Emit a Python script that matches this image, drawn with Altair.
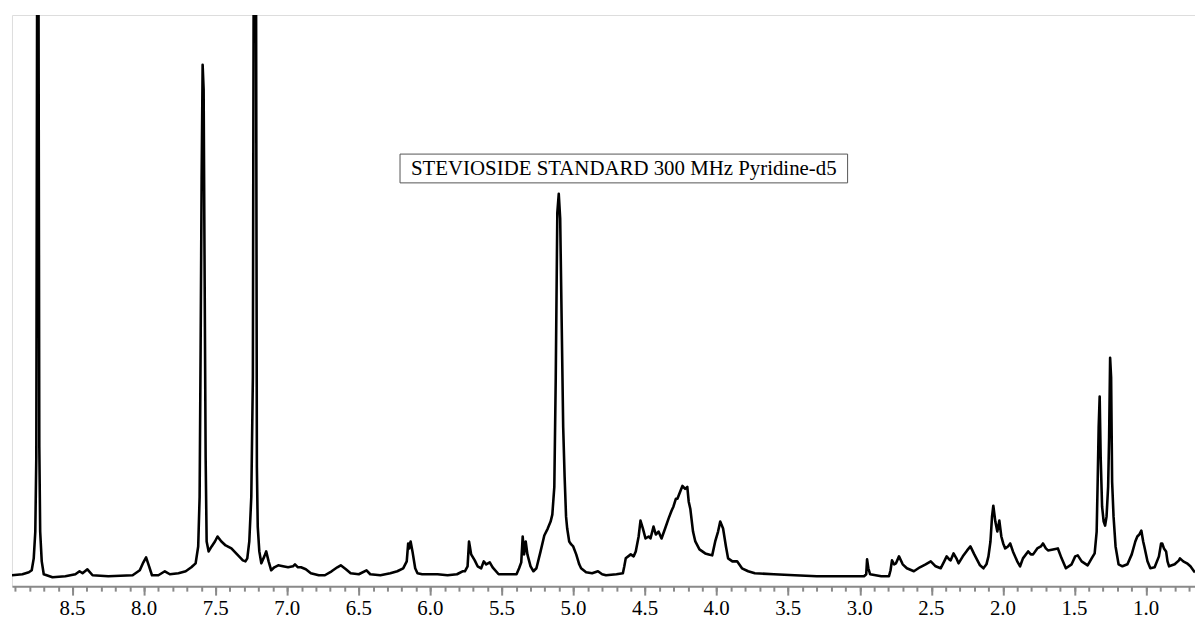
import altair as alt
import pandas as pd

# Chemical shift (ppm) and signal intensity
ppm = [
    8.923, 8.85, 8.805, 8.785, 8.771, 8.760, 8.753, 8.746, 8.739, 8.732, 8.726, 8.715, 8.701,
    8.64, 8.55, 8.48, 8.451, 8.43, 8.396, 8.36, 8.25, 8.08, 8.03, 8.005, 7.986, 7.965, 7.945,
    7.90, 7.855, 7.82, 7.76, 7.709, 7.67, 7.640, 7.622, 7.612, 7.605, 7.598, 7.591, 7.584,
    7.577, 7.570, 7.563, 7.549, 7.528, 7.505, 7.487, 7.46, 7.43, 7.39, 7.35, 7.31, 7.292,
    7.279, 7.265, 7.251, 7.240, 7.233, 7.219, 7.212, 7.206, 7.195, 7.181, 7.16, 7.147, 7.13,
    7.112, 7.09, 7.063, 7.03, 6.994, 6.96, 6.946, 6.925, 6.904, 6.87, 6.835, 6.78, 6.737,
    6.69, 6.65, 6.626, 6.59, 6.557, 6.50, 6.446, 6.42, 6.349, 6.28, 6.231, 6.19, 6.165,
    6.155, 6.148, 6.138, 6.125, 6.106, 6.09, 6.057, 5.95, 5.88, 5.814, 5.775, 5.759, 5.74,
    5.73, 5.724, 5.715, 5.69, 5.67, 5.645, 5.627, 5.61, 5.585, 5.565, 5.523, 5.45, 5.398,
    5.38, 5.365, 5.355, 5.345, 5.334, 5.322, 5.30, 5.28, 5.259, 5.23, 5.204, 5.18, 5.16,
    5.148, 5.134, 5.124, 5.113, 5.103, 5.093, 5.082, 5.072, 5.062, 5.052, 5.044, 5.03,
    5.016, 5.002, 4.981, 4.96, 4.947, 4.912, 4.87, 4.829, 4.80, 4.773, 4.70, 4.655, 4.645,
    4.635, 4.60, 4.58, 4.565, 4.545, 4.532, 4.515, 4.497, 4.475, 4.462, 4.441, 4.425, 4.406,
    4.385, 4.36, 4.336, 4.315, 4.302, 4.285, 4.274, 4.255, 4.239, 4.22, 4.205, 4.195, 4.184,
    4.165, 4.149, 4.12, 4.08, 4.055, 4.031, 4.01, 3.99, 3.975, 3.955, 3.935, 3.92, 3.89,
    3.857, 3.823, 3.78, 3.733, 3.60, 3.455, 3.30, 3.10, 2.97, 2.955, 2.949, 2.94, 2.928,
    2.85, 2.796, 2.785, 2.775, 2.76, 2.747, 2.726, 2.70, 2.671, 2.622, 2.58, 2.54, 2.504,
    2.47, 2.435, 2.41, 2.393, 2.375, 2.365, 2.345, 2.325, 2.31, 2.28, 2.25, 2.227, 2.20,
    2.16, 2.136, 2.115, 2.101, 2.087, 2.076, 2.067, 2.053, 2.039, 2.025, 2.011, 1.998,
    1.984, 1.965, 1.949, 1.93, 1.90, 1.88, 1.86, 1.824, 1.805, 1.789, 1.76, 1.735, 1.72,
    1.70, 1.685, 1.65, 1.616, 1.59, 1.56, 1.52, 1.495, 1.477, 1.45, 1.408, 1.38, 1.359,
    1.345, 1.338, 1.331, 1.324, 1.317, 1.307, 1.296, 1.286, 1.276, 1.265, 1.258, 1.251,
    1.244, 1.237, 1.227, 1.213, 1.192, 1.165, 1.13, 1.10, 1.075, 1.061, 1.047, 1.033, 1.02,
    1.012, 0.99, 0.97, 0.94, 0.91, 0.895, 0.887, 0.875, 0.86, 0.85, 0.839, 0.80, 0.77,
    0.763, 0.74, 0.714, 0.69, 0.665, 0.658,
]
intensity = [
    1, 2, 4, 6, 18, 45, 120, 700, 700, 130, 45, 15, 2,
    -1, 0, 2, 5, 3, 7, 1, 0, 1, 6, 14, 19, 10, 1,
    1, 5, 2, 3, 5, 9, 13, 30, 80, 230, 400, 515, 490,
    300, 120, 35, 25, 30, 35, 40, 35, 31, 28, 22, 16, 15,
    18, 35, 80, 200, 700, 700, 110, 50, 25, 13, 20, 25, 15,
    6, 9, 11, 10, 9, 10, 12, 9, 9, 7, 3, 1, 1,
    5, 9, 11, 7, 3, 2, 6, 2, 1, 3, 5, 8, 15,
    33, 28, 35, 25, 8, 3, 2, 2, 1, 2, 5, 5, 10,
    35, 30, 22, 16, 10, 8, 15, 12, 14, 9, 2, 2, 2,
    8, 14, 40, 22, 35, 22, 10, 5, 8, 25, 41, 48, 55,
    62, 90, 200, 366, 385, 360, 250, 150, 100, 60, 48, 35,
    32, 30, 22, 12, 8, 4, 3, 5, 2, 1, 2, 3, 10,
    18, 22, 20, 25, 40, 56, 48, 38, 40, 38, 50, 42, 45,
    38, 48, 58, 66, 70, 78, 78, 85, 91, 88, 90, 75, 68,
    45, 35, 27, 23, 22, 21, 35, 45, 55, 48, 30, 18, 15,
    15, 8, 5, 3, 2, 1, 0, 0, 0, 2, 17, 8, 2,
    0, 0, 6, 16, 12, 13, 20, 12, 8, 5, 9, 12, 15,
    10, 8, 15, 20, 17, 16, 23, 18, 13, 20, 26, 30, 22,
    11, 8, 12, 20, 35, 60, 71, 55, 45, 56, 40, 33,
    28, 30, 33, 25, 15, 10, 18, 25, 22, 22, 28, 30, 33,
    28, 26, 27, 28, 18, 8, 12, 20, 21, 15, 11, 18, 23,
    45, 95, 150, 181, 120, 70, 55, 51, 60, 90, 140, 220,
    200, 95, 60, 30, 12, 10, 12, 22, 35, 40, 42, 46, 35,
    30, 15, 8, 9, 20, 33, 33, 28, 25, 15, 10, 12, 16,
    18, 15, 13, 10, 5, 4,
]

# Axis ticks and their labels
major_ticks = [8.5, 8.0, 7.5, 7.0, 6.5, 6.0, 5.5, 5.0, 4.5, 4.0, 3.5, 3.0, 2.5, 2.0, 1.5, 1.0]
major_labels = ["8.5", "8.0", "7.5", "7.0", "6.5", "6.0", "5.5", "5.0", "4.5", "4.0",
                "3.5", "3.0", "2.5", "2.0", "1.5", "1.0"]
minor_ticks = [8.9, 8.8, 8.7, 8.6, 8.5, 8.4, 8.3, 8.2, 8.1, 8.0, 7.9, 7.8, 7.7, 7.6, 7.5,
               7.4, 7.3, 7.2, 7.1, 7.0, 6.9, 6.8, 6.7, 6.6, 6.5, 6.4, 6.3, 6.2, 6.1, 6.0,
               5.9, 5.8, 5.7, 5.6, 5.5, 5.4, 5.3, 5.2, 5.1, 5.0, 4.9, 4.8, 4.7, 4.6, 4.5,
               4.4, 4.3, 4.2, 4.1, 4.0, 3.9, 3.8, 3.7, 3.6, 3.5, 3.4, 3.3, 3.2, 3.1, 3.0,
               2.9, 2.8, 2.7, 2.6, 2.5, 2.4, 2.3, 2.2, 2.1, 2.0, 1.9, 1.8, 1.7, 1.6, 1.5,
               1.4, 1.3, 1.2, 1.1, 1.0, 0.9, 0.8, 0.7]

# Annotation label and its box (in data units)
label_text = ["STEVIOSIDE STANDARD 300 MHz Pyridine-d5"]
box_ppm_left = [6.212]
box_ppm_right = [3.085]
box_int_top = [425]
box_int_bottom = [396]

df = pd.DataFrame({"ppm": ppm, "intensity": intensity})
ticks_df = pd.DataFrame({"ppm": major_ticks, "label": major_labels})
box_df = pd.DataFrame({
    "x1": box_ppm_left, "x2": box_ppm_right,
    "y1": box_int_top, "y2": box_int_bottom,
    "xm": [(box_ppm_left[0] + box_ppm_right[0]) / 2],
    "ym": [(box_int_top[0] + box_int_bottom[0]) / 2],
    "label": label_text,
})

W, H = 1191, 575
xscale = alt.Scale(domain=[8.923, 0.658], nice=False, zero=False)
yscale = alt.Scale(domain=[-10, 565], nice=False, zero=False)

FONT = "Liberation Serif"

major_axis = alt.Axis(
    orient="bottom", values=major_ticks, title=None, grid=False, labels=False,
    domain=True, domainColor="#8a8a8a", domainWidth=2,
    ticks=True, tickColor="#8a8a8a", tickWidth=2, tickSize=9,
)
minor_axis = alt.Axis(
    orient="bottom", values=minor_ticks, title=None, grid=False, labels=False,
    domain=False, ticks=True, tickColor="#8a8a8a", tickWidth=2, tickSize=5,
)

minor = alt.Chart(df).mark_line(opacity=0, clip=True).encode(
    x=alt.X("ppm:Q", scale=xscale, axis=minor_axis),
    y=alt.Y("intensity:Q", scale=yscale, axis=None),
)

line = alt.Chart(df).mark_line(color="black", strokeWidth=2.6, clip=True,
                               strokeJoin="round").encode(
    x=alt.X("ppm:Q", scale=xscale, axis=major_axis),
    y=alt.Y("intensity:Q", scale=yscale, axis=None),
)

tick_labels = alt.Chart(ticks_df).mark_text(
    font=FONT, fontSize=21, color="black", align="center", baseline="alphabetic"
).encode(
    x=alt.X("ppm:Q", scale=xscale, axis=None),
    y=alt.value(H + 29),
    text="label:N",
)

box = alt.Chart(box_df).mark_rect(fill="white", stroke="#555555", strokeWidth=1).encode(
    x=alt.X("x1:Q", scale=xscale, axis=None),
    x2="x2:Q",
    y=alt.Y("y1:Q", scale=yscale, axis=None),
    y2="y2:Q",
)

text = alt.Chart(box_df).mark_text(
    font=FONT, fontSize=21, color="black", align="center", baseline="middle", dy=1
).encode(
    x=alt.X("xm:Q", scale=xscale, axis=None),
    y=alt.Y("ym:Q", scale=yscale, axis=None),
    text="label:N",
)

chart = alt.layer(minor, line, tick_labels, box, text).resolve_axis(x="independent").properties(
    width=W, height=H,
    padding={"left": 4, "top": 5, "right": 0, "bottom": 0},
).configure_view(stroke="#ececec", strokeWidth=1).configure(background="white")

chart.save("out.html", embed_options={"renderer": "svg", "actions": False})
